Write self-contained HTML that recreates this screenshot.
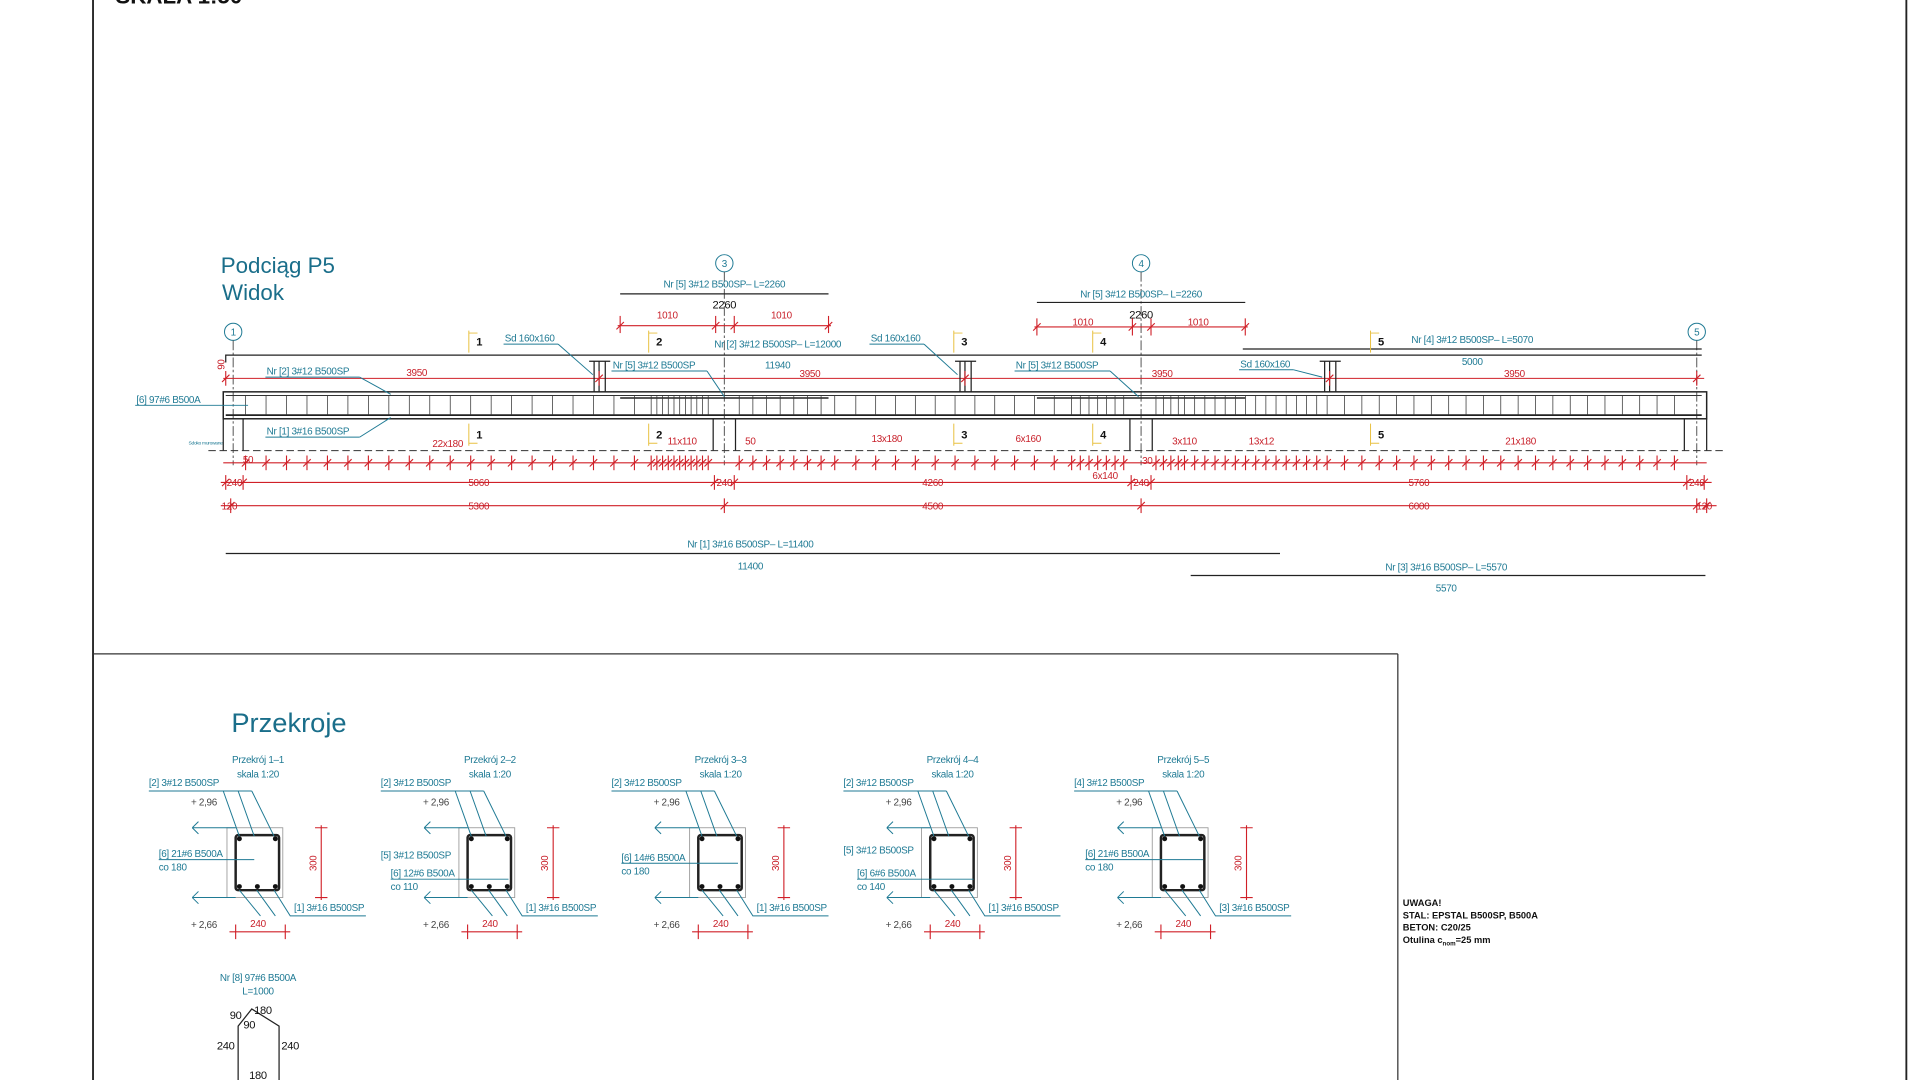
<!DOCTYPE html>
<html><head><meta charset="utf-8"><style>
html,body{margin:0;padding:0;background:#fff;width:1920px;height:1080px;overflow:hidden}
svg{display:block}
text{font-family:"Liberation Sans Narrow","Liberation Sans",sans-serif;letter-spacing:-0.25px}
.t{fill:#1f7a94;font-size:8px}
.r{fill:#c8202a;font-size:8px}
.k{fill:#111;font-size:9px}
.tl{stroke:#1f7a94;stroke-width:0.8;fill:none}
.rl{stroke:#d02028;stroke-width:0.9;fill:none}
.kl{stroke:#222;stroke-width:1;fill:none}
.gl{stroke:#999;stroke-width:0.7;fill:none}
.yl{stroke:#e8c040;stroke-width:0.8;fill:none}
</style></head><body>
<svg id="s" width="1920" height="1080" viewBox="0 0 1548 882" preserveAspectRatio="none" xmlns="http://www.w3.org/2000/svg">
<rect width="1548" height="882" fill="#fff"/>
<line x1="75" y1="0" x2="75" y2="882" stroke="#222" stroke-width="1.5"/>
<line x1="1537" y1="0" x2="1537" y2="882" stroke="#222" stroke-width="1.5"/>
<line x1="75" y1="534" x2="1127" y2="534" stroke="#333" stroke-width="1"/>
<line x1="1127" y1="534" x2="1127" y2="882" stroke="#333" stroke-width="1"/>
<text x="93" y="3" style="font-family:'Liberation Sans',sans-serif;font-weight:bold;font-size:18px;letter-spacing:0" fill="#111">SKALA 1:50</text>

<text x="178" y="223" style="font-family:'Liberation Sans',sans-serif;font-size:18px;letter-spacing:0" fill="#1a6e8a">Podciąg P5</text>
<text x="179" y="245" style="font-family:'Liberation Sans',sans-serif;font-size:18px;letter-spacing:0" fill="#1a6e8a">Widok</text>

<g class="tl">
<circle cx="188" cy="271" r="7"/><circle cx="584" cy="215" r="7"/><circle cx="920" cy="215" r="7"/><circle cx="1368" cy="271" r="7"/>
</g>
<g stroke="#555" stroke-width="0.8" stroke-dasharray="8,2,2,2">
<line x1="188" y1="278" x2="188" y2="380"/><line x1="584" y1="222" x2="584" y2="380"/><line x1="920" y1="222" x2="920" y2="380"/><line x1="1368" y1="278" x2="1368" y2="380"/>
</g>
<g class="t" text-anchor="middle" font-size="8">
<text x="188" y="274">1</text><text x="584" y="218">3</text><text x="920" y="218">4</text><text x="1368" y="274">5</text>
</g>

<text class="t" x="584" y="235" text-anchor="middle">Nr [5] 3#12 B500SP– L=2260</text>
<line class="kl" x1="500" y1="240" x2="668" y2="240"/>
<text class="k" x="584" y="252" text-anchor="middle" font-size="8">2260</text>
<line class="rl" x1="498" y1="266" x2="670" y2="266"/>
<text class="r" x="538" y="260" text-anchor="middle">1010</text><text class="r" x="630" y="260" text-anchor="middle">1010</text>
<text class="t" x="920" y="243" text-anchor="middle">Nr [5] 3#12 B500SP– L=2260</text>
<line class="kl" x1="836" y1="247" x2="1004" y2="247"/>
<text class="k" x="920" y="260" text-anchor="middle" font-size="8">2260</text>
<line class="rl" x1="834" y1="267" x2="1006" y2="267"/>
<text class="r" x="873" y="266" text-anchor="middle">1010</text><text class="r" x="966" y="266" text-anchor="middle">1010</text>
<text class="t" x="1187" y="280" text-anchor="middle">Nr [4] 3#12 B500SP– L=5070</text>
<line class="kl" x1="1002" y1="285" x2="1372" y2="285"/>
<text class="t" x="1187" y="298" text-anchor="middle">5000</text>
<text class="t" x="627" y="284" text-anchor="middle">Nr [2] 3#12 B500SP– L=12000</text>
<text class="t" x="627" y="301" text-anchor="middle">11940</text>

<path class="kl" d="M182 296 V290 H1372"/>
<line class="rl" x1="180" y1="309" x2="1374" y2="309"/>
<rect x="180" y="320" width="1196" height="22" fill="none" stroke="#222" stroke-width="1.2"/>
<line x1="182" y1="323" x2="1372" y2="323" stroke="#333" stroke-width="0.8"/>
<line x1="182" y1="339" x2="1372" y2="339" stroke="#222" stroke-width="1.4"/>
<line x1="500" y1="325" x2="668" y2="325" stroke="#222" stroke-width="1.2"/>
<line x1="836" y1="325" x2="1004" y2="325" stroke="#222" stroke-width="1.2"/>
<g id="stir" stroke="#333" stroke-width="0.6"></g>
<g class="kl">
<path d="M180 342 V368 M196 342 V368"/><path d="M575 342 V368 M593 342 V368"/><path d="M911 342 V368 M929 342 V368"/><path d="M1358 342 V368 M1376 342 V368"/>
</g>
<g stroke="#333" stroke-width="0.8" stroke-dasharray="6,3"><line x1="168" y1="368" x2="1390" y2="368"/></g>
<g class="kl">
<path d="M475 295 H492 M479 295 V320 M483 295 V320 M488 295 V320"/>
<path d="M770 295 H787 M774 295 V320 M778 295 V320 M783 295 V320"/>
<path d="M1064 295 H1081 M1068 295 V320 M1072 295 V320 M1077 295 V320"/>
</g>
<g class="t">
<text x="407" y="279">Sd 160x160</text><line class="tl" x1="406" y1="281" x2="450" y2="281"/><line class="tl" x1="450" y1="281" x2="478" y2="306"/>
<text x="702" y="279">Sd 160x160</text><line class="tl" x1="701" y1="281" x2="745" y2="281"/><line class="tl" x1="745" y1="281" x2="772" y2="306"/>
<text x="1000" y="300">Sd 160x160</text><line class="tl" x1="999" y1="302" x2="1043" y2="302"/><line class="tl" x1="1043" y1="302" x2="1066" y2="308"/>
<text x="215" y="306">Nr [2] 3#12 B500SP</text><line class="tl" x1="214" y1="308" x2="290" y2="308"/><line class="tl" x1="290" y1="308" x2="315" y2="322"/>
<text x="494" y="301">Nr [5] 3#12 B500SP</text><line class="tl" x1="493" y1="303" x2="570" y2="303"/><line class="tl" x1="570" y1="303" x2="584" y2="324"/>
<text x="819" y="301">Nr [5] 3#12 B500SP</text><line class="tl" x1="818" y1="303" x2="895" y2="303"/><line class="tl" x1="895" y1="303" x2="918" y2="324"/>
<text x="110" y="329">[6] 97#6 B500A</text><line class="tl" x1="109" y1="331" x2="200" y2="331"/>
<text x="215" y="355">Nr [1] 3#16 B500SP</text><line class="tl" x1="214" y1="357" x2="290" y2="357"/><line class="tl" x1="290" y1="357" x2="315" y2="341"/>
<text x="152" y="363" font-size="4">Sdoko murowane</text>
</g>
<text class="r" x="336" y="307" text-anchor="middle">3950</text><text class="r" x="653" y="308" text-anchor="middle">3950</text><text class="r" x="937" y="308" text-anchor="middle">3950</text><text class="r" x="1221" y="308" text-anchor="middle">3950</text>
<text x="181" y="302" class="r" transform="rotate(-90 181 302)" font-size="8">90</text>

<g class="k" font-size="10" font-weight="bold">
<text x="384" y="282">1</text><text x="529" y="282">2</text><text x="775" y="282">3</text><text x="887" y="282">4</text><text x="1111" y="282">5</text>
<text x="384" y="358">1</text><text x="529" y="358">2</text><text x="775" y="358">3</text><text x="887" y="358">4</text><text x="1111" y="358">5</text>
</g>
<g class="yl">
<path d="M378 270 V288 M378 272 H385"/><path d="M523 270 V288 M523 272 H530"/><path d="M769 270 V288 M769 272 H776"/><path d="M881 270 V288 M881 272 H888"/><path d="M1105 270 V288 M1105 272 H1112"/>
<path d="M378 346 V364 M378 362 H385"/><path d="M523 346 V364 M523 362 H530"/><path d="M769 346 V364 M769 362 H776"/><path d="M881 346 V364 M881 362 H888"/><path d="M1105 346 V364 M1105 362 H1112"/>
</g>

<line class="rl" x1="180" y1="378" x2="1376" y2="378"/>
<g id="ticks" class="rl"></g>
<line class="rl" x1="178" y1="394" x2="1380" y2="394"/>
<line class="rl" x1="178" y1="413" x2="1384" y2="413"/>
<g class="r" text-anchor="middle">
<text x="189" y="397">240</text><text x="386" y="397">5060</text><text x="584" y="397">240</text><text x="752" y="397">4260</text><text x="920" y="397">240</text><text x="1144" y="397">5760</text><text x="1368" y="397">240</text>
<text x="185" y="416">120</text><text x="386" y="416">5300</text><text x="752" y="416">4500</text><text x="1144" y="416">6000</text><text x="1374" y="416">120</text>
<text x="361" y="365">22x180</text><text x="550" y="363">11x110</text><text x="605" y="363">50</text><text x="715" y="361">13x180</text><text x="829" y="361">6x160</text><text x="891" y="391">6x140</text><text x="955" y="363">3x110</text><text x="1017" y="363">13x12</text><text x="1226" y="363">21x180</text><text x="925" y="379">30</text><text x="200" y="378">50</text>
</g>

<text class="t" x="605" y="447" text-anchor="middle">Nr [1] 3#16 B500SP– L=11400</text>
<line class="kl" x1="182" y1="452" x2="1032" y2="452"/>
<text class="t" x="605" y="465" text-anchor="middle">11400</text>
<text class="t" x="1166" y="466" text-anchor="middle">Nr [3] 3#16 B500SP– L=5570</text>
<line class="kl" x1="960" y1="470" x2="1375" y2="470"/>
<text class="t" x="1166" y="483" text-anchor="middle">5570</text>

<defs>
<g id="sec">
<rect x="183" y="676" width="45" height="57" class="gl"/>
<rect x="190" y="682" width="35" height="45" rx="2" fill="none" stroke="#222" stroke-width="2"/>
<circle cx="193" cy="685" r="2" fill="#111"/><circle cx="222" cy="685" r="2" fill="#111"/>
<circle cx="193" cy="724" r="2" fill="#111"/><circle cx="207.5" cy="724" r="2" fill="#111"/><circle cx="222" cy="724" r="2" fill="#111"/>
<path class="tl" d="M180 646 L193 683 M192 646 L205 683 M203 646 L221 683 M120 646 H203"/>
<path class="tl" d="M155 676 H190 M155 676 l5 5 M155 676 l5 -5"/>
<path class="tl" d="M155 733 H190 M155 733 l5 -5 M155 733 l5 5 M193 727 L210 748 M207 727 L222 748 M221 727 L234 748 H295"/>
<path class="rl" d="M259 674 V735 M254 676 H264 M254 733 H264 M185 761 H234 M190 755 V767 M230 755 V767"/>
</g>
</defs>
<use href="#sec"/><use href="#sec" transform="translate(187 0)"/><use href="#sec" transform="translate(373 0)"/><use href="#sec" transform="translate(560 0)"/><use href="#sec" transform="translate(746 0)"/>
<text x="233" y="598" style="font-family:'Liberation Sans',sans-serif;font-size:22px;letter-spacing:0" fill="#1a6e8a" text-anchor="middle">Przekroje</text>
<g class="t">
<text x="208" y="623" text-anchor="middle">Przekrój 1–1</text><text x="208" y="635" text-anchor="middle">skala 1:20</text>
<text x="395" y="623" text-anchor="middle">Przekrój 2–2</text><text x="395" y="635" text-anchor="middle">skala 1:20</text>
<text x="581" y="623" text-anchor="middle">Przekrój 3–3</text><text x="581" y="635" text-anchor="middle">skala 1:20</text>
<text x="768" y="623" text-anchor="middle">Przekrój 4–4</text><text x="768" y="635" text-anchor="middle">skala 1:20</text>
<text x="954" y="623" text-anchor="middle">Przekrój 5–5</text><text x="954" y="635" text-anchor="middle">skala 1:20</text>

<text x="120" y="642">[2] 3#12 B500SP</text><text x="307" y="642">[2] 3#12 B500SP</text><text x="493" y="642">[2] 3#12 B500SP</text><text x="680" y="642">[2] 3#12 B500SP</text><text x="866" y="642">[4] 3#12 B500SP</text>
<text x="154" y="658" fill="#444">+ 2,96</text><text x="341" y="658" fill="#444">+ 2,96</text><text x="527" y="658" fill="#444">+ 2,96</text><text x="714" y="658" fill="#444">+ 2,96</text><text x="900" y="658" fill="#444">+ 2,96</text>
<text x="154" y="758" fill="#444">+ 2,66</text><text x="341" y="758" fill="#444">+ 2,66</text><text x="527" y="758" fill="#444">+ 2,66</text><text x="714" y="758" fill="#444">+ 2,66</text><text x="900" y="758" fill="#444">+ 2,66</text>
<text x="237" y="744">[1] 3#16 B500SP</text><text x="424" y="744">[1] 3#16 B500SP</text><text x="610" y="744">[1] 3#16 B500SP</text><text x="797" y="744">[1] 3#16 B500SP</text><text x="983" y="744">[3] 3#16 B500SP</text>
<text x="128" y="700">[6] 21#6 B500A</text><text x="128" y="711">co 180</text>
<text x="307" y="701">[5] 3#12 B500SP</text><text x="315" y="716">[6] 12#6 B500A</text><text x="315" y="727">co 110</text>
<text x="501" y="703">[6] 14#6 B500A</text><text x="501" y="714">co 180</text>
<text x="680" y="697">[5] 3#12 B500SP</text><text x="691" y="716">[6] 6#6 B500A</text><text x="691" y="727">co 140</text>
<text x="875" y="700">[6] 21#6 B500A</text><text x="875" y="711">co 180</text>
<text x="208" y="801" text-anchor="middle">Nr [8] 97#6 B500A</text><text x="208" y="812" text-anchor="middle">L=1000</text>
</g>
<g class="r" text-anchor="middle">
<text x="208" y="757">240</text><text x="395" y="757">240</text><text x="581" y="757">240</text><text x="768" y="757">240</text><text x="954" y="757">240</text>
<text x="255" y="705" transform="rotate(-90 255 705)">300</text><text x="442" y="705" transform="rotate(-90 442 705)">300</text><text x="628" y="705" transform="rotate(-90 628 705)">300</text><text x="815" y="705" transform="rotate(-90 815 705)">300</text><text x="1001" y="705" transform="rotate(-90 1001 705)">300</text>
</g>
<g class="tl">
<path d="M128 702 H205"/><path d="M501 705 H595"/><path d="M875 702 H970"/><path d="M315 718 H410"/><path d="M691 718 H785"/>
</g>
<path class="kl" d="M192 882 V838 L203 824 L225 838 V882" stroke-width="1.3"/>
<g class="k" font-size="8" text-anchor="middle">
<text x="190" y="832">90</text><text x="201" y="840">90</text><text x="212" y="828">180</text><text x="182" y="857">240</text><text x="234" y="857">240</text><text x="208" y="881">180</text>
</g>
<g font-size="7.5" font-weight="bold" fill="#111">
<text x="1131" y="740" style="font-family:'Liberation Sans',sans-serif;letter-spacing:0">UWAGA!</text>
<text x="1131" y="750" style="font-family:'Liberation Sans',sans-serif;letter-spacing:0">STAL: EPSTAL B500SP, B500A</text>
<text x="1131" y="760" style="font-family:'Liberation Sans',sans-serif;letter-spacing:0">BETON: C20/25</text>
<text x="1131" y="770" style="font-family:'Liberation Sans',sans-serif;letter-spacing:0">Otulina c<tspan font-size="5" dy="2">nom</tspan><tspan dy="-2">=25 mm</tspan></text>
</g>
</svg>
<script>
var NS="http://www.w3.org/2000/svg";
function ln(g,x1,y1,x2,y2){var l=document.createElementNS(NS,"line");l.setAttribute("x1",x1);l.setAttribute("y1",y1);l.setAttribute("x2",x2);l.setAttribute("y2",y2);g.appendChild(l);}
var st=document.getElementById("stir"),tk=document.getElementById("ticks");
var xs=[];
function run(a,b,step){for(var x=a;x<=b+0.1;x+=step)xs.push(x);}
run(198,520,16.5);run(525,574,4.6);run(596,680,11);run(690,860,16);run(864,910,7);run(932,950,6);run(955,1062,8.2);run(1070,1360,14);
xs.forEach(function(x){ln(st,x,323,x,339);ln(tk,x,372,x,384);ln(tk,x-3,381,x+3,375);});
[182,196,576,592,912,928,1360,1374].forEach(function(x){ln(tk,x,388,x,400);ln(tk,x-3,397,x+3,391);});
[186,584,920,1368,1376].forEach(function(x){ln(tk,x,407,x,419);ln(tk,x-3,416,x+3,410);});
[500,577,592,668].forEach(function(x){ln(tk,x,258,x,272);ln(tk,x-3,269,x+3,263);});
[836,913,928,1004].forEach(function(x){ln(tk,x,260,x,274);ln(tk,x-3,270,x+3,264);});
[182,483,778,1072,1368].forEach(function(x){ln(tk,x,303,x,315);ln(tk,x-3,312,x+3,306);});
</script>
</body></html>
